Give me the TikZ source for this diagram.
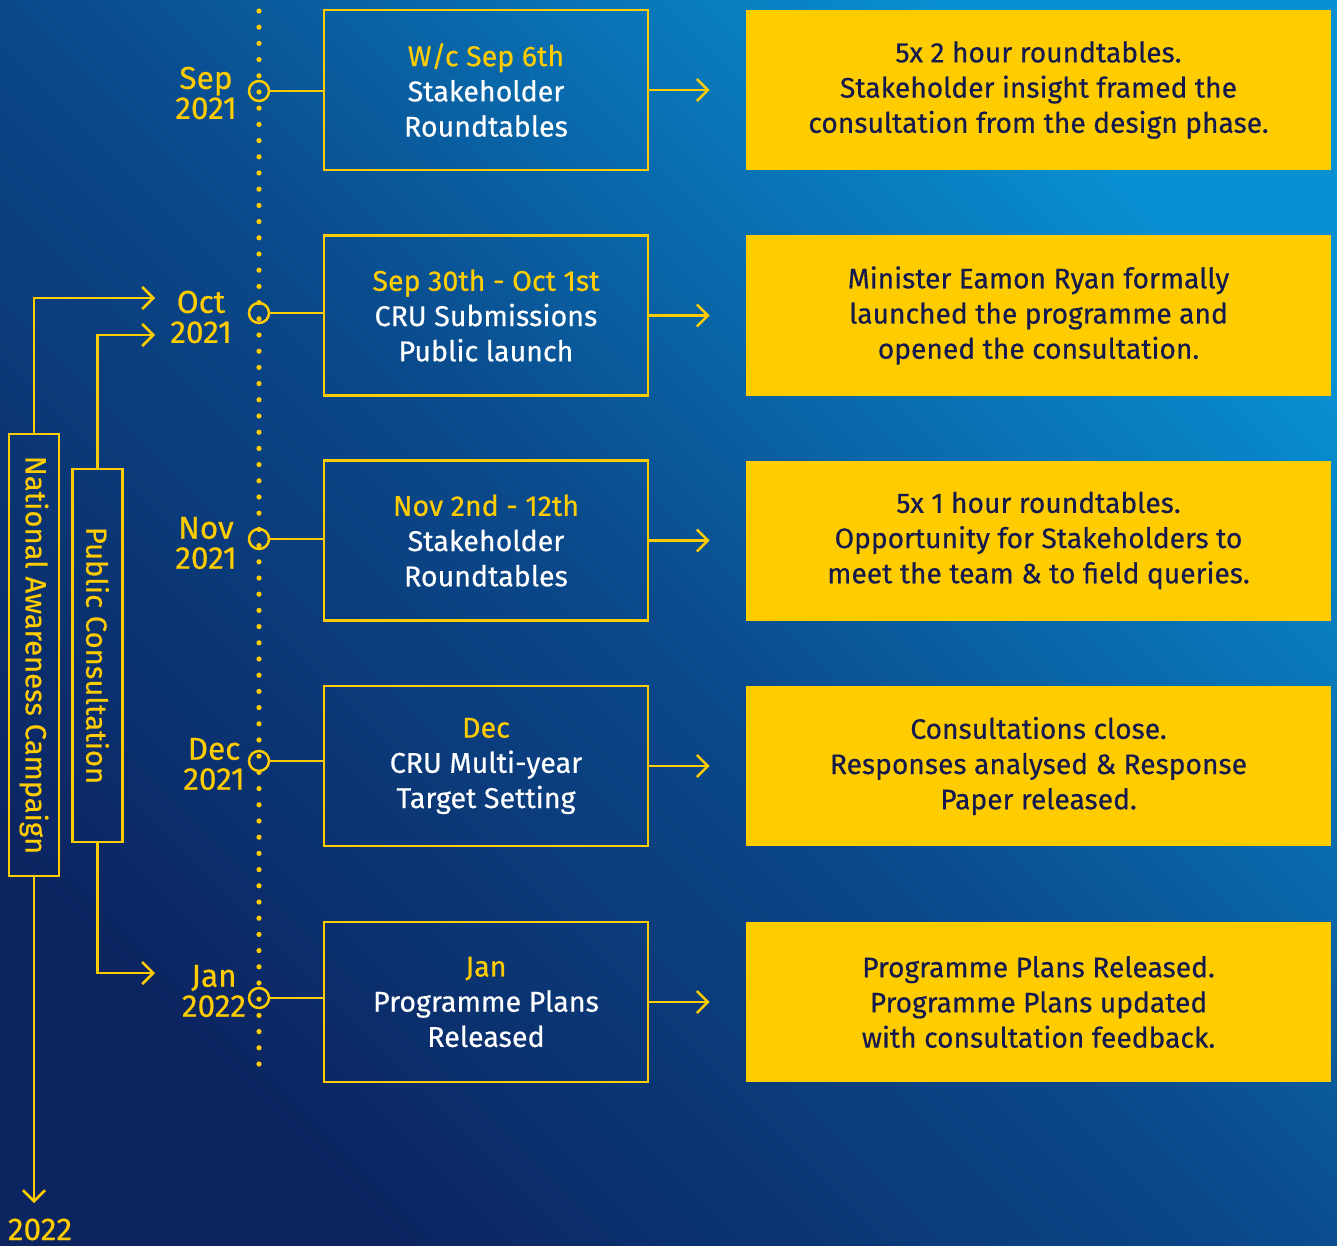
\documentclass[tikz,border=0pt]{standalone}
\usepackage{fontspec}
\usepackage{graphicx}
\setmainfont{Fira Sans}[FakeBold=0.45]
\usetikzlibrary{arrows.meta,calc}
\definecolor{ylw}{HTML}{FFCC00}
\definecolor{navy}{HTML}{141A4E}
\definecolor{bgdark}{HTML}{0C2460}
\definecolor{bgmid}{HTML}{0A4A8C}
\definecolor{bglight}{HTML}{0890D2}
\begin{document}
\begin{tikzpicture}[x=0.5pt,y=-0.5pt,
  yl/.style={draw=ylw,line width=1.25pt},
  evbox/.style={yl, minimum width=162pt, minimum height=80pt, align=center, text=white,
    font=\fontsize{14.3}{17.6}\selectfont, inner sep=0pt},
  infobox/.style={fill=ylw, minimum width=292.5pt, minimum height=80pt, align=center, text=navy,
    font=\fontsize{14.1}{17.6}\selectfont, inner sep=0pt},
  month/.style={text=ylw, align=center, font=\fontsize{15.8}{15}\selectfont, inner sep=0pt},
  ring/.style={circle, yl, minimum size=10pt, inner sep=0pt},
  arr/.style={yl, -{Straight Barb[length=5.5pt,width=11pt]}},
  bar/.style={yl, minimum width=25pt, inner sep=0pt, text=ylw, font=\fontsize{14.6}{15}\selectfont}
]
\useasboundingbox (0,0) rectangle (1337,1246);
\shade[top color=bglight, bottom color=bgdark, middle color=bgmid, shading angle=-45] (0,0) rectangle (1337,1246);

% timeline
\coordinate (ttop) at (259,11);
\coordinate (tbot) at (259,1064);
\draw[ylw, line width=2.6pt, line cap=round, dash pattern=on 0pt off 8.1pt] (ttop) -- (tbot);

% rings
\node[ring] (c1) at (259,91) {};
\node[ring] (c2) at (259,313) {};
\node[ring] (c3) at (259,539) {};
\node[ring] (c4) at (259,761) {};
\node[ring] (c5) at (259,998) {};

% month labels
\node[month] (m1) at (206,93) {Sep\\2021};
\node[month] (m2) at (201,317) {Oct\\2021};
\node[month] (m3) at (206,543) {Nov\\2021};
\node[month] (m4) at (214,764) {Dec\\2021};
\node[month] (m5) at (214,991) {Jan\\2022};

% event boxes
\node[evbox] (b1) at (486,90) {{\color{ylw}W/c Sep 6th}\\Stakeholder\\Roundtables};
\node[evbox] (b2) at (486,315.5) {{\color{ylw}Sep 30th - Oct 1st}\\CRU Submissions\\Public launch};
\node[evbox] (b3) at (486,540.5) {{\color{ylw}Nov 2nd - 12th}\\Stakeholder\\Roundtables};
\node[evbox] (b4) at (486,766) {{\color{ylw}Dec}\\CRU Multi-year\\Target Setting};
\node[evbox] (b5) at (486,1002) {{\color{ylw}Jan}\\Programme Plans\\Released};

% info boxes
\node[infobox] (i1) at (1038.5,90) {5x 2 hour roundtables.\\Stakeholder insight framed the\\consultation from the design phase.};
\node[infobox] (i2) at (1038.5,315.5) {Minister Eamon Ryan formally\\launched the programme and\\opened the consultation.};
\node[infobox] (i3) at (1038.5,540.5) {5x 1 hour roundtables.\\Opportunity for Stakeholders to\\meet the team \& to field queries.};
\node[infobox] (i4) at (1038.5,766) {Consultations close.\\Responses analysed \& Response\\Paper released.};
\node[infobox] (i5) at (1038.5,1002) {Programme Plans Released.\\Programme Plans updated\\with consultation feedback.};

% ring to box, box to info
\foreach \k in {1,...,5}{
  \draw[yl] (c\k.east) -- (c\k -| b\k.west);
  \draw[arr, shorten >=18pt] (b\k.east) -- (i\k.west);
}

% side bars
\node[bar, minimum height=221pt] (nac) at (34,655) {\rotatebox{-90}{National Awareness Campaign}};
\node[bar, minimum height=186.5pt] (pc) at (97.5,655.5) {\rotatebox{-90}{Public Consultation}};

\coordinate (a1) at (155,298);
\coordinate (a2) at (155,335);
\coordinate (a3) at (155,973);
\coordinate (a4) at (34,1203);
\draw[arr] (nac.north) |- (a1);
\draw[arr] (pc.north) |- (a2);
\draw[arr] (pc.south) |- (a3);
\draw[arr] (nac.south) -- (a4);
\node[text=ylw, font=\fontsize{15.8}{15}\selectfont, inner sep=0pt, text depth=0pt, anchor=base] (y22) at (40,1240) {2022};
\end{tikzpicture}
\end{document}
